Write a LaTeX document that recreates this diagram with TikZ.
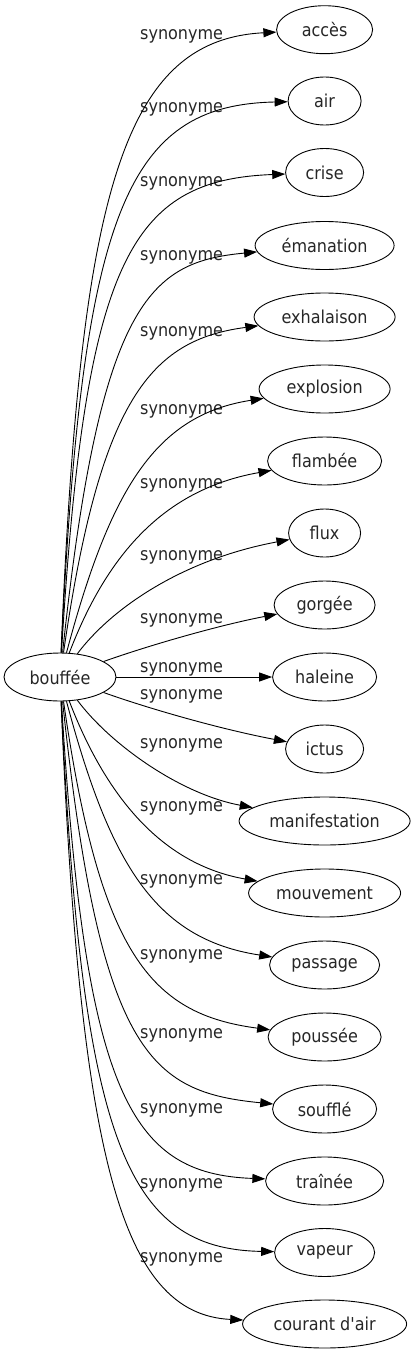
\documentclass[tikz,border=0pt]{standalone}
\usepackage{fontspec}
\setmainfont{DejaVu Sans Condensed}[Ligatures=TeXOff]
\usetikzlibrary{arrows.meta,shapes.geometric}
\begin{document}
\begin{tikzpicture}[x=1pt,y=-1pt,
  word/.style={ellipse,draw,line width=0.9pt,minimum height=48pt,inner sep=0pt,font=\fontsize{17.8}{21}\selectfont,text=black!85},
  lbl/.style={anchor=base west,inner sep=0pt,font=\fontsize{17.8}{21}\selectfont,text=black!85},
  edge/.style={line width=0.9pt,-{Triangle[length=13pt,width=9pt]}}]
\path[use as bounding box] (0,0) rectangle (415,1355);
\node[word,minimum width=112pt] (b) at (60,677) {bouffée};
\node[word,minimum width=96pt]  (t1)  at (324.6,29.7)  {accès};
\node[word,minimum width=73pt]  (t2)  at (324.6,101)   {air};
\node[word,minimum width=78pt]  (t3)  at (324.6,172.5) {crise};
\node[word,minimum width=139pt] (t4)  at (324.6,245.5) {émanation};
\node[word,minimum width=141pt] (t5)  at (324.6,317)   {exhalaison};
\node[word,minimum width=131pt] (t6)  at (324.6,389)   {explosion};
\node[word,minimum width=114pt] (t7)  at (324.6,461)   {flambée};
\node[word,minimum width=72pt]  (t8)  at (324.6,533)   {flux};
\node[word,minimum width=101pt] (t9)  at (324.6,605)   {gorgée};
\node[word,minimum width=104pt] (t10) at (324.6,677)   {haleine};
\node[word,minimum width=78pt]  (t11) at (324.6,749)   {ictus};
\node[word,minimum width=171pt] (t12) at (324.6,821)   {manifestation};
\node[word,minimum width=152pt] (t13) at (324.6,893)   {mouvement};
\node[word,minimum width=110pt] (t14) at (324.6,965)   {passage};
\node[word,minimum width=113pt] (t15) at (324.6,1037)  {poussée};
\node[word,minimum width=104pt] (t16) at (324.6,1109)  {soufflé};
\node[word,minimum width=118pt] (t17) at (324.6,1181)  {traînée};
\node[word,minimum width=100pt] (t18) at (324.6,1252.5) {vapeur};
\node[word,minimum width=164pt] (t19) at (324.6,1324)  {courant d'air};
\node[lbl] (l1)  at (140,39)    {synonyme};
\node[lbl] (l2)  at (140,112.7) {synonyme};
\node[lbl] (l3)  at (140,186)   {synonyme};
\node[lbl] (l4)  at (140,260.7) {synonyme};
\node[lbl] (l5)  at (140,336)   {synonyme};
\node[lbl] (l6)  at (140,414)   {synonyme};
\node[lbl] (l7)  at (140,488)   {synonyme};
\node[lbl] (l8)  at (140,560)   {synonyme};
\node[lbl] (l9)  at (140,623)   {synonyme};
\node[lbl] (l10) at (140,672)   {synonyme};
\node[lbl] (l11) at (140,699)   {synonyme};
\node[lbl] (l12) at (140,748)   {synonyme};
\node[lbl] (l13) at (140,811)   {synonyme};
\node[lbl] (l14) at (140,884)   {synonyme};
\node[lbl] (l15) at (140,959)   {synonyme};
\node[lbl] (l16) at (140,1038)  {synonyme};
\node[lbl] (l17) at (140,1113)  {synonyme};
\node[lbl] (l18) at (140,1188)  {synonyme};
\node[lbl] (l19) at (140,1262)  {synonyme};
\draw[edge] (b) .. controls (80,200) and (120,40) .. (t1);
\draw[edge] (b) .. controls (82,215) and (125,105) .. (t2);
\draw[edge] (b) .. controls (85,260) and (130,180) .. (t3);
\draw[edge] (b) .. controls (100,300) and (150,262) .. (t4);
\draw[edge] (b) .. controls (100,400) and (150,340) .. (t5);
\draw[edge] (b) .. controls (110,490) and (155,415) .. (t6);
\draw[edge] (b) .. controls (105,560) and (160,490) .. (t7);
\draw[edge] (b) .. controls (110,610) and (180,560) .. (t8);
\draw[edge] (b) .. controls (150,645) and (220,625) .. (t9);
\draw[edge] (b) -- (t10);
\draw[edge] (b) .. controls (150,709) and (220,729) .. (t11);
\draw[edge] (b) .. controls (110,744) and (180,794) .. (t12);
\draw[edge] (b) .. controls (105,794) and (160,864) .. (t13);
\draw[edge] (b) .. controls (110,864) and (155,939) .. (t14);
\draw[edge] (b) .. controls (100,954) and (150,1014) .. (t15);
\draw[edge] (b) .. controls (100,1054) and (150,1092) .. (t16);
\draw[edge] (b) .. controls (85,1094) and (130,1174) .. (t17);
\draw[edge] (b) .. controls (82,1139) and (125,1249) .. (t18);
\draw[edge] (b) .. controls (80,1154) and (120,1314) .. (t19);
\end{tikzpicture}
\end{document}
